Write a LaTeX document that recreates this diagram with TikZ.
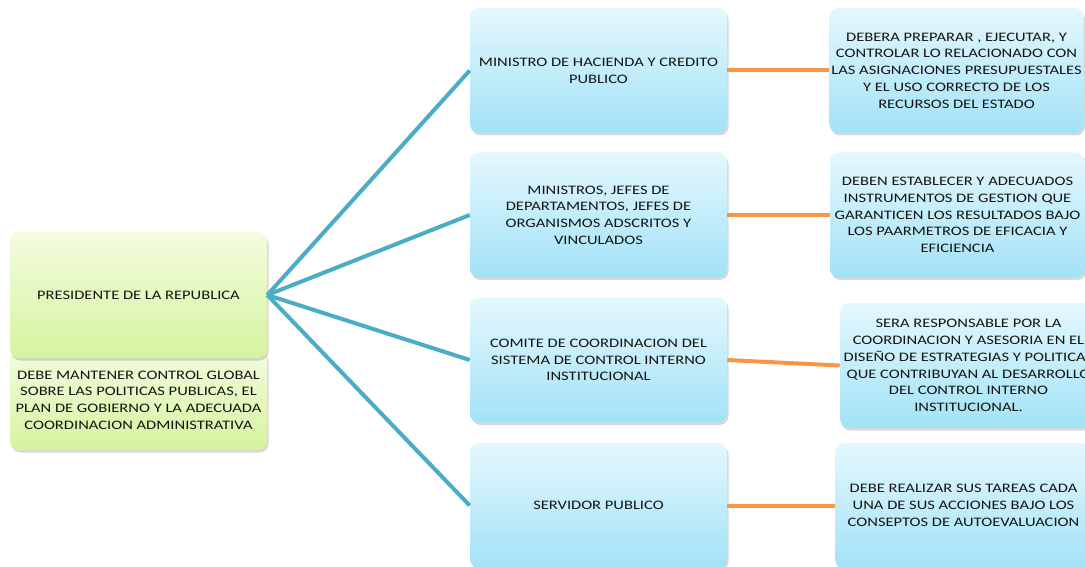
\documentclass[tikz,border=0pt]{standalone}
\usepackage{fontspec}
\setmainfont{Carlito}[FakeStretch=1.27]
\usetikzlibrary{shadows}

\definecolor{boxbluetop}{HTML}{E4F8FE}
\definecolor{boxblue}{HTML}{A2E2F7}
\definecolor{boxgreentop}{HTML}{F3FCE0}
\definecolor{boxgreen}{HTML}{D6F39E}
\definecolor{linkteal}{HTML}{4BACC6}
\definecolor{linkorange}{HTML}{F79646}

\begin{document}
\begin{tikzpicture}[x = 1pt, y = -1pt, % pixel units, y grows downwards
                font = \fontsize{13}{16.7}\selectfont,
                semithick % line style
            ]

            \tikzstyle{box}=[rounded corners = 9pt, align = center,
            inner sep = 2pt, minimum width = 257pt, minimum height = 125pt,
            text = black!92, drop shadow = {opacity = 0.3,
            shadow xshift = 1.5pt, shadow yshift = -2.5pt}]
            \tikzstyle{blue box}=[box, top color = boxbluetop,
            bottom color = boxblue]
            \tikzstyle{green box}=[box, top color = boxgreentop,
            bottom color = boxgreen]
            \tikzstyle{teal link}=[draw = linkteal, line width = 4pt]
            \tikzstyle{orange link}=[draw = linkorange, line width = 4pt]

            \useasboundingbox (0,0) rectangle (1085,567);

            % left column
            \node (pres note) [green box, minimum height = 100pt]
            at (138.5,400) {DEBE MANTENER CONTROL GLOBAL\\SOBRE LAS POLITICAS
            PUBLICAS, EL\\PLAN DE GOBIERNO Y LA ADECUADA\\COORDINACION
            ADMINISTRATIVA};
            \node (pres) [green box, minimum height = 126pt] at (138.5,295)
            {PRESIDENTE DE LA REPUBLICA};

            % middle column
            \node (m1) [blue box] at (598.5,70.5) {MINISTRO DE HACIENDA Y
            CREDITO\\PUBLICO};
            \node (m2) [blue box] at (598.5,215) {MINISTROS, JEFES
            DE\\DEPARTAMENTOS, JEFES DE\\ORGANISMOS ADSCRITOS
            Y\\VINCULADOS};
            \node (m3) [blue box] at (598.5,360) {COMITE DE COORDINACION
            DEL\\SISTEMA DE CONTROL INTERNO\\INSTITUCIONAL};
            \node (m4) [blue box] at (598.5,505.5) {SERVIDOR PUBLICO};

            % right column
            \node (r1) [blue box, minimum width = 253pt] at (956.5,70.5)
            {DEBERA PREPARAR , EJECUTAR, Y\\CONTROLAR LO RELACIONADO
            CON\\LAS ASIGNACIONES PRESUPUESTALES\\Y EL USO CORRECTO DE
            LOS\\RECURSOS DEL ESTADO};
            \node (r2) [blue box, minimum width = 255pt] at (957.5,215)
            {DEBEN ESTABLECER Y ADECUADOS\\INSTRUMENTOS DE GESTION
            QUE\\GARANTICEN LOS RESULTADOS BAJO\\LOS PAARMETROS DE EFICACIA
            Y\\EFICIENCIA};
            \node (r3) [blue box] at (968.5,365.5) {SERA RESPONSABLE POR
            LA\\COORDINACION Y ASESORIA EN EL\\DISEÑO DE ESTRATEGIAS Y
            POLITICAS\\QUE CONTRIBUYAN AL DESARROLLO\\DEL CONTROL
            INTERNO\\INSTITUCIONAL.};
            \node (r4) [blue box] at (963.5,505.5) {DEBE REALIZAR SUS TAREAS
            CADA\\UNA DE SUS ACCIONES BAJO LOS\\CONSEPTOS DE
            AUTOEVALUACION};

            \path[teal link] (pres.east) edge (m1.west); \path[teal link]
            (pres.east) edge (m2.west); \path[teal link] (pres.east) edge
            (m3.west); \path[teal link] (pres.east) edge (m4.west);

            \path[orange link] (m1) edge (r1); \path[orange link] (m2) edge
            (r2); \path[orange link] (m3.east) edge (r3.west); \path[orange
            link] (m4) edge (r4); \end{tikzpicture}
\end{document}
